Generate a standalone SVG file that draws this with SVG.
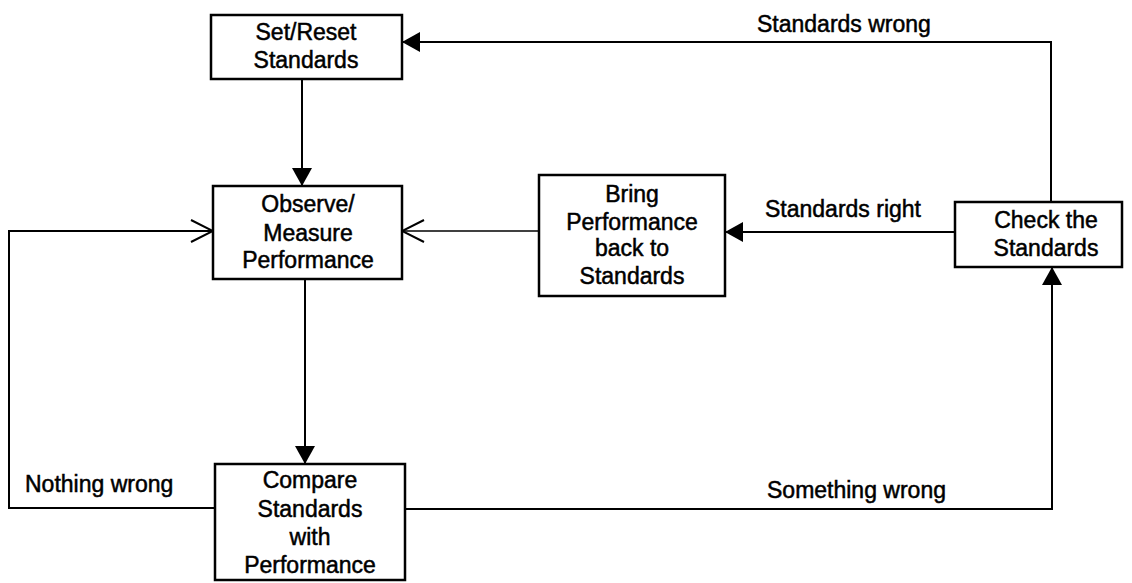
<svg xmlns="http://www.w3.org/2000/svg" width="1132" height="583" viewBox="0 0 1132 583">
  <style>
    .box { fill: #ffffff; stroke: #000000; stroke-width: 2.5; }
    .lbl { font-family: "Liberation Sans", Arial, sans-serif; font-size: 23px; fill: #000000; stroke: #000000; stroke-width: 0.5; }
    .ctr { text-anchor: middle; }
    .con { fill: none; stroke: #000000; stroke-width: 2; }
    .thin { fill: none; stroke: #000000; stroke-width: 1.6; }
  </style>
  <defs>
    <marker id="filled" viewBox="0 0 18 20" refX="18" refY="10" markerWidth="18" markerHeight="20" markerUnits="userSpaceOnUse" orient="auto">
      <path d="M0,0 L18,10 L0,20 z" fill="#000000"/>
    </marker>
    <marker id="open" viewBox="0 0 24 24" refX="23" refY="12" markerWidth="24" markerHeight="24" markerUnits="userSpaceOnUse" orient="auto">
      <path d="M1,1 L23,12 L1,23" fill="none" stroke="#000000" stroke-width="2"/>
    </marker>
  </defs>
  <rect width="1132" height="583" fill="#ffffff"/>

  <g id="connectors">
    <line class="con" x1="302" y1="79" x2="302" y2="186" marker-end="url(#filled)"/>
    <line class="con" x1="305" y1="279" x2="305" y2="464" marker-end="url(#filled)"/>
    <polyline class="con" points="215,508 9,508 9,231 213,231" marker-end="url(#open)"/>
    <polyline class="con" points="405,509 1052,509 1052,267" marker-end="url(#filled)"/>
    <line class="con" x1="955" y1="232" x2="725" y2="232" marker-end="url(#filled)"/>
    <line class="thin" x1="539" y1="231" x2="402" y2="231" marker-end="url(#open)"/>
    <polyline class="con" points="1051,202 1051,42 402,42" marker-end="url(#filled)"/>
    <text class="lbl" x="757" y="32">Standards wrong</text>
    <text class="lbl" x="765" y="217">Standards right</text>
    <text class="lbl" x="25" y="492">Nothing wrong</text>
    <text class="lbl" x="767" y="498">Something wrong</text>
  </g>

  <g id="set-reset">
    <rect class="box" x="211" y="15" width="191" height="64"/>
    <text class="lbl ctr" x="306" y="40">Set/Reset</text>
    <text class="lbl ctr" x="306" y="68">Standards</text>
  </g>

  <g id="observe">
    <rect class="box" x="213" y="186" width="189" height="93"/>
    <text class="lbl ctr" x="308" y="212">Observe/</text>
    <text class="lbl ctr" x="308" y="241">Measure</text>
    <text class="lbl ctr" x="308" y="268">Performance</text>
  </g>

  <g id="bring">
    <rect class="box" x="539" y="175" width="186" height="121"/>
    <text class="lbl ctr" x="632" y="202">Bring</text>
    <text class="lbl ctr" x="632" y="230">Performance</text>
    <text class="lbl ctr" x="632" y="256">back to</text>
    <text class="lbl ctr" x="632" y="284">Standards</text>
  </g>

  <g id="check">
    <rect class="box" x="955" y="202" width="167" height="65"/>
    <text class="lbl ctr" x="1046" y="228">Check the</text>
    <text class="lbl ctr" x="1046" y="256">Standards</text>
  </g>

  <g id="compare">
    <rect class="box" x="215" y="464" width="190" height="116"/>
    <text class="lbl ctr" x="310" y="488">Compare</text>
    <text class="lbl ctr" x="310" y="517">Standards</text>
    <text class="lbl ctr" x="310" y="545">with</text>
    <text class="lbl ctr" x="310" y="573">Performance</text>
  </g>
</svg>
